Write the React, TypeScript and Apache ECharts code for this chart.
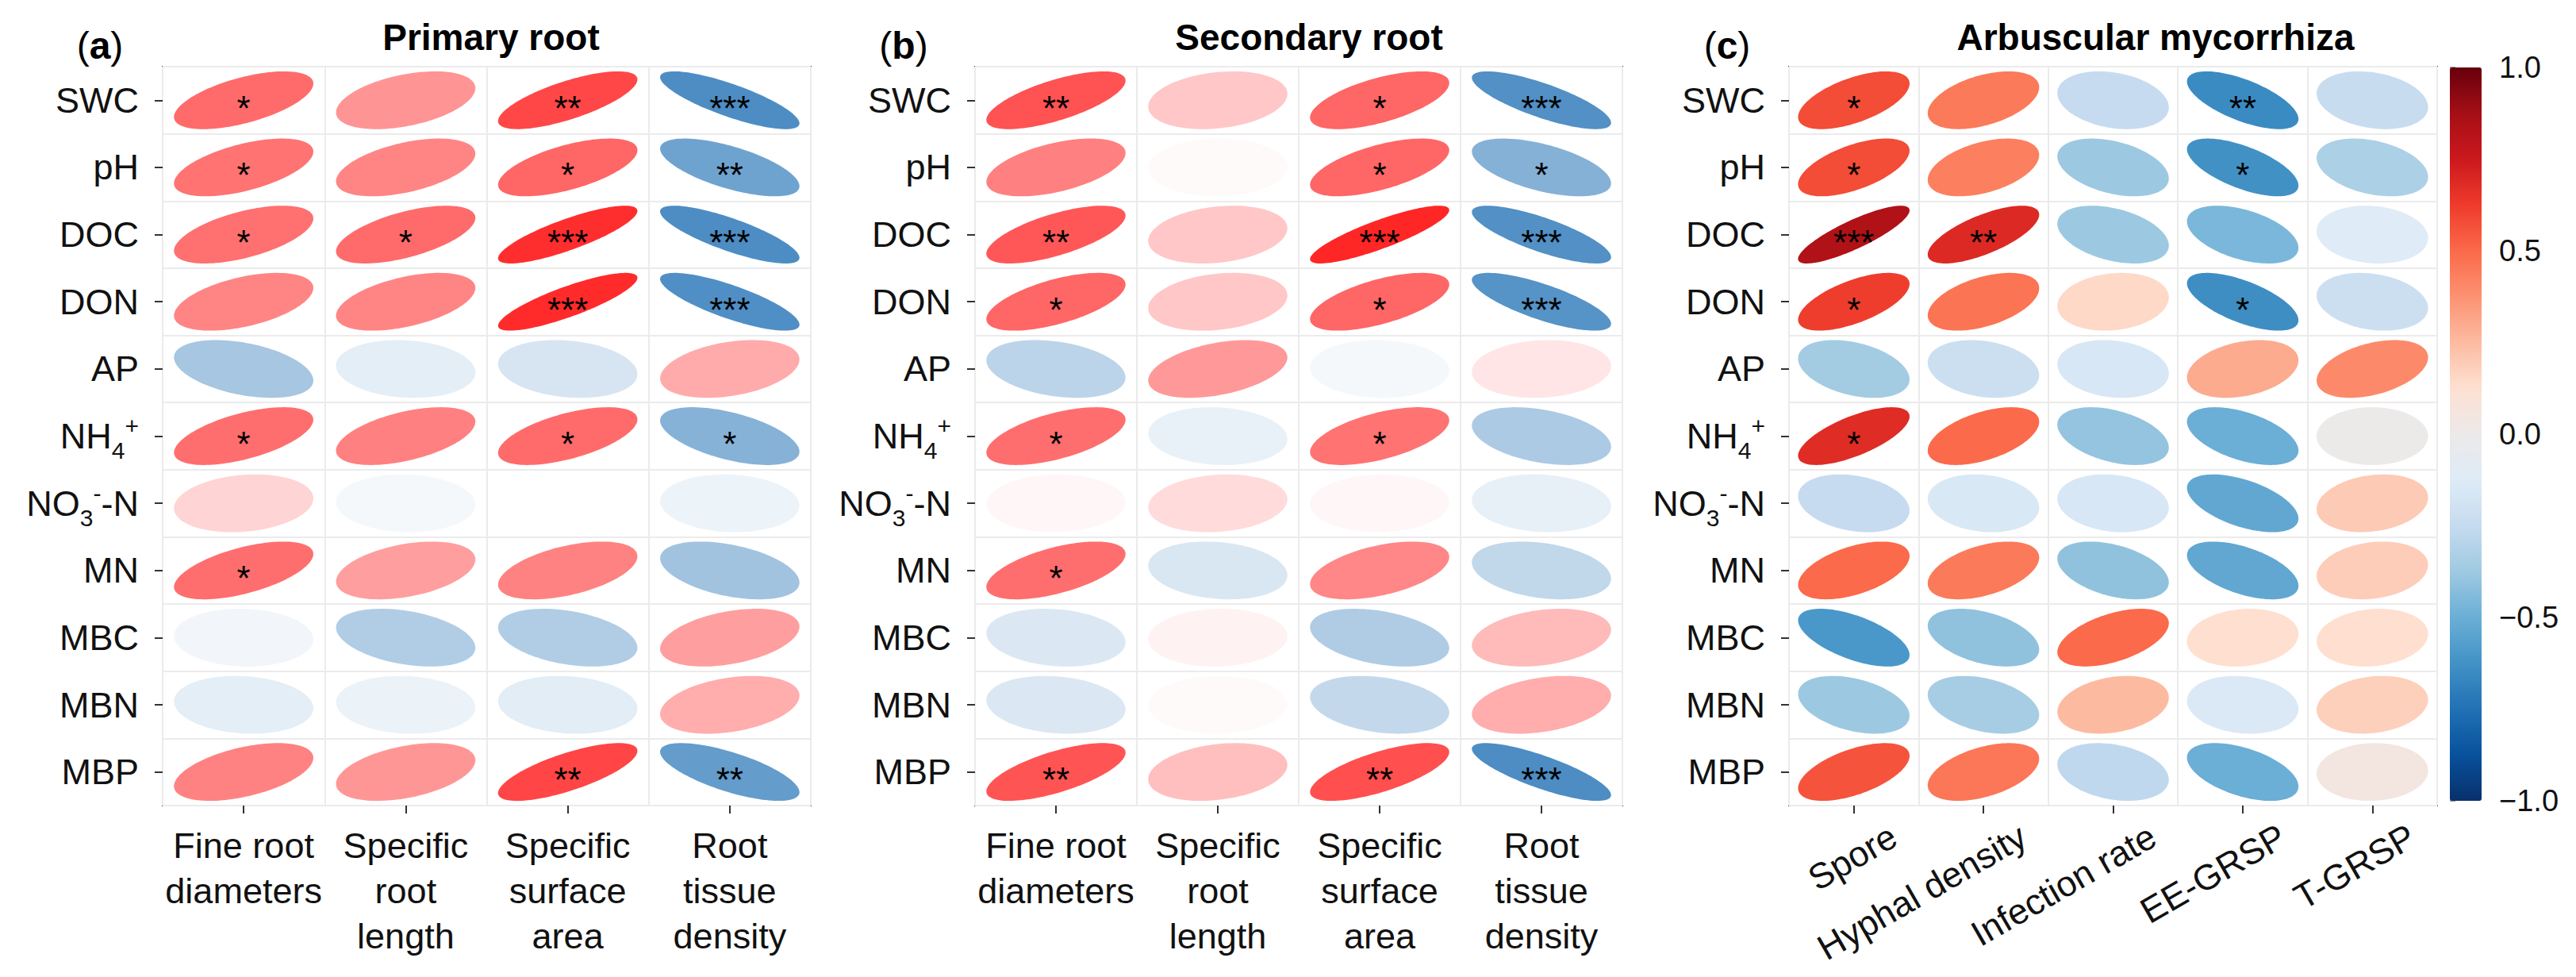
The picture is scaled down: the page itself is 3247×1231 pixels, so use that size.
import React, { useEffect, useRef } from 'react';
import * as echarts from 'echarts';

const FONT = '"Liberation Sans", Arial, Helvetica, sans-serif';

// ---------- categories ----------
const rowNames = ['SWC', 'pH', 'DOC', 'DON', 'AP', 'NH4+', 'NO3--N', 'MN', 'MBC', 'MBN', 'MBP'];
const rootTraits = ['Fine root\ndiameters', 'Specific\nroot\nlength', 'Specific\nsurface\narea', 'Root\ntissue\ndensity'];
const amfTraits = ['Spore', 'Hyphal density', 'Infection rate', 'EE-GRSP', 'T-GRSP'];

// ---------- correlation values (rows x columns) ----------
const primaryR = [
  [0.58, 0.42, 0.72, -0.80],
  [0.55, 0.48, 0.60, -0.65],
  [0.56, 0.58, 0.82, -0.80],
  [0.48, 0.48, 0.83, -0.79],
  [-0.40, -0.12, -0.18, 0.33],
  [0.57, 0.50, 0.58, -0.54],
  [0.17, -0.05, 0.00, -0.08],
  [0.57, 0.38, 0.49, -0.42],
  [-0.06, -0.35, -0.35, 0.38],
  [-0.12, -0.09, -0.13, 0.32],
  [0.49, 0.41, 0.73, -0.70],
];
const primarySig = [
  ['*', '', '**', '***'],
  ['*', '', '*', '**'],
  ['*', '*', '***', '***'],
  ['', '', '***', '***'],
  ['', '', '', ''],
  ['*', '', '*', '*'],
  ['', '', '', ''],
  ['*', '', '', ''],
  ['', '', '', ''],
  ['', '', '', ''],
  ['', '', '**', '**'],
];

const secondaryR = [
  [0.68, 0.22, 0.60, -0.78],
  [0.50, 0.02, 0.60, -0.55],
  [0.66, 0.22, 0.85, -0.78],
  [0.60, 0.22, 0.60, -0.76],
  [-0.30, 0.40, -0.05, 0.10],
  [0.57, -0.10, 0.55, -0.37],
  [0.03, 0.14, 0.03, -0.11],
  [0.57, -0.17, 0.47, -0.28],
  [-0.16, 0.05, -0.36, 0.27],
  [-0.16, 0.02, -0.27, 0.32],
  [0.67, 0.25, 0.69, -0.80],
];
const secondarySig = [
  ['**', '', '*', '***'],
  ['', '', '*', '*'],
  ['**', '', '***', '***'],
  ['*', '', '*', '***'],
  ['', '', '', ''],
  ['*', '', '*', ''],
  ['', '', '', ''],
  ['*', '', '', ''],
  ['', '', '', ''],
  ['', '', '', ''],
  ['**', '', '**', '***'],
];

const amfR = [
  [0.58, 0.45, -0.25, -0.65, -0.24],
  [0.58, 0.43, -0.38, -0.63, -0.33],
  [0.84, 0.69, -0.38, -0.46, -0.12],
  [0.62, 0.47, 0.15, -0.64, -0.22],
  [-0.36, -0.22, -0.16, 0.30, 0.40],
  [0.68, 0.50, -0.40, -0.50, 0.00],
  [-0.25, -0.15, -0.16, -0.53, 0.20],
  [0.50, 0.45, -0.41, -0.53, 0.19],
  [-0.60, -0.41, 0.50, 0.13, 0.13],
  [-0.38, -0.35, 0.25, -0.14, 0.18],
  [0.56, 0.46, -0.27, -0.50, 0.05],
];
const amfSig = [
  ['*', '', '', '**', ''],
  ['*', '', '', '*', ''],
  ['***', '**', '', '', ''],
  ['*', '', '', '*', ''],
  ['', '', '', '', ''],
  ['*', '', '', '', ''],
  ['', '', '', '', ''],
  ['', '', '', '', ''],
  ['', '', '', '', ''],
  ['', '', '', '', ''],
  ['', '', '', '', ''],
];

const panelTitles = ['Primary root', 'Secondary root', 'Arbuscular mycorrhiza'];
const panelLetters = ['a', 'b', 'c'];
const colorbarMin = -1;
const colorbarMax = 1;
const colorbarStep = 0.5;

// ---------- palettes ----------
const rootPalette = ['#2171B5', '#FFFFFF', '#FF0000'];
const amfPalette = [
  '#08306B', '#08519C', '#2171B5', '#4292C6', '#6BAED6', '#9ECAE1', '#C6DBEF', '#DEEBF7',
  '#ECE9E9',
  '#FEE0D2', '#FCBBA1', '#FC9272', '#FB6A4A', '#EF3B2C', '#CB181D', '#A50F15', '#67000D',
];

// ---------- layout ----------
const GRID_TOP = 84;
const GRID_H = 931;
const gridsLayout = [
  { left: 205, top: GRID_TOP, width: 817, height: GRID_H },
  { left: 1229, top: GRID_TOP, width: 816, height: GRID_H },
  { left: 2255, top: GRID_TOP, width: 817, height: GRID_H },
];
const titlePos = [
  { x: 619, y: 47 },
  { x: 1650, y: 47 },
  { x: 2717, y: 47 },
];
const letterPos = [
  { x: 126, y: 57 },
  { x: 1139, y: 57 },
  { x: 2177, y: 57 },
];

const K = 0.43;

function makeRender(sig: string[]) {
  return (params: any, api: any) => {
    const c = api.coord([api.value(0), api.value(1)]);
    const sz = api.size([1, 1]);
    const w = Math.abs(sz[0]);
    const h = Math.abs(sz[1]);
    const r = api.value(2);
    const A = Math.sqrt(Math.max(0, 1 + r));
    const B = Math.sqrt(Math.max(0, 1 - r));
    const pts: number[][] = [];
    const N = 120;
    for (let i = 0; i < N; i++) {
      const t = (i / N) * Math.PI * 2;
      const u = (A * Math.cos(t) - B * Math.sin(t)) / Math.SQRT2;
      const v = (A * Math.cos(t) + B * Math.sin(t)) / Math.SQRT2;
      pts.push([c[0] + u * K * w, c[1] - v * K * h]);
    }
    const children: any[] = [
      { type: 'polygon', shape: { points: pts }, style: { fill: api.visual('color'), stroke: null } },
    ];
    const s = sig[params.dataIndex];
    if (s) {
      children.push({
        type: 'text',
        x: c[0],
        y: c[1] + 10,
        style: {
          text: s,
          fill: '#000',
          fontSize: 44,
          fontFamily: FONT,
          align: 'center',
          verticalAlign: 'middle',
        },
      });
    }
    return { type: 'group', children };
  };
}

function buildSeries(idx: number, R: number[][], S: string[][]) {
  const data: number[][] = [];
  const sig: string[] = [];
  R.forEach((row, yi) =>
    row.forEach((v, xi) => {
      data.push([xi, yi, v]);
      sig.push(S[yi][xi]);
    })
  );
  return {
    type: 'custom',
    xAxisIndex: idx,
    yAxisIndex: idx,
    data,
    encode: { x: 0, y: 1 },
    renderItem: makeRender(sig),
    silent: true,
    clip: false,
  };
}

const rowLabel = (v: string) => {
  if (v === 'NH4+') return 'NH{sub|4}{sup|+}';
  if (v === 'NO3--N') return 'NO{sub|3}{sup|-}-N';
  return v;
};

function yAxisFor(idx: number) {
  return {
    gridIndex: idx,
    type: 'category',
    data: rowNames,
    inverse: true,
    boundaryGap: true,
    axisLine: { show: false },
    axisTick: { show: true, alignWithLabel: true, interval: 0, length: 10, lineStyle: { color: '#333', width: 2 } },
    splitLine: { show: true, interval: 0, lineStyle: { color: '#EBEBEB', width: 2 } },
    axisLabel: {
      interval: 0,
      margin: 30,
      fontSize: 45,
      color: '#111',
      fontFamily: FONT,
      formatter: rowLabel,
      rich: {
        sub: { fontSize: 30, fontFamily: FONT, color: '#111', padding: [36, 0, 0, 0] },
        sup: { fontSize: 30, fontFamily: FONT, color: '#111', padding: [0, 0, 26, 0] },
      },
    },
  };
}

function xAxisFor(idx: number, data: string[], rotated: boolean) {
  return {
    gridIndex: idx,
    type: 'category',
    data,
    boundaryGap: true,
    axisLine: { show: false },
    axisTick: { show: true, alignWithLabel: true, interval: 0, length: 10, lineStyle: { color: '#333', width: 2 } },
    splitLine: { show: true, interval: 0, lineStyle: { color: '#EBEBEB', width: 2 } },
    axisLabel: rotated
      ? {
          interval: 0,
          rotate: 30,
          margin: 64,
          padding: [0, -58, 0, 0],
          fontSize: 45,
          color: '#111',
          fontFamily: FONT,
        }
      : {
          interval: 0,
          margin: 22,
          fontSize: 45,
          lineHeight: 57,
          color: '#111',
          fontFamily: FONT,
        },
  };
}

export default function App() {
  const ref = useRef<HTMLDivElement>(null);
  useEffect(() => {
    if (!ref.current) return;
    const chart = echarts.init(ref.current, null, { renderer: 'svg', width: 3247, height: 1231 });
    const grids: any[] = gridsLayout.map((g) => ({
      ...g,
      show: true,
      borderColor: '#333',
      borderWidth: 2,
      backgroundColor: '#fff',
      containLabel: false,
    }));
    grids.push({ left: 3088, top: 85, width: 40, height: 924, show: false });

    const graphic: any[] = [];
    panelTitles.forEach((t, i) => {
      graphic.push({
        type: 'text',
        x: titlePos[i].x,
        y: titlePos[i].y,
        style: {
          text: t,
          fill: '#000',
          fontSize: 46,
          fontWeight: 'bold',
          fontFamily: FONT,
          align: 'center',
          verticalAlign: 'middle',
        },
      });
      graphic.push({
        type: 'text',
        x: letterPos[i].x,
        y: letterPos[i].y,
        style: {
          text: '{p|(}{b|' + panelLetters[i] + '}{p|)}',
          align: 'center',
          verticalAlign: 'middle',
          rich: {
            p: { fontSize: 48, fontFamily: FONT, fill: '#000' },
            b: { fontSize: 48, fontFamily: FONT, fontWeight: 'bold', fill: '#000' },
          },
        },
      });
    });

    const option: any = {
      animation: false,
      backgroundColor: '#fff',
      grid: grids,
      xAxis: [
        xAxisFor(0, rootTraits, false),
        xAxisFor(1, rootTraits, false),
        xAxisFor(2, amfTraits, true),
        { gridIndex: 3, type: 'value', show: false, min: 0, max: 1 },
      ],
      yAxis: [
        yAxisFor(0),
        yAxisFor(1),
        yAxisFor(2),
        {
          gridIndex: 3,
          type: 'value',
          position: 'right',
          min: colorbarMin,
          max: colorbarMax,
          interval: colorbarStep,
          axisLine: { show: false },
          axisTick: { show: true, length: 7, lineStyle: { color: '#999', width: 2 } },
          splitLine: { show: false },
          axisLabel: {
            margin: 22,
            fontSize: 38,
            color: '#111',
            fontFamily: FONT,
            formatter: (v: number) => (v < 0 ? '\u2212' : '') + Math.abs(v).toFixed(1),
          },
        },
      ],
      visualMap: [
        {
          type: 'continuous',
          show: false,
          seriesIndex: [0, 1],
          dimension: 2,
          min: -1,
          max: 1,
          inRange: { color: rootPalette },
        },
        {
          type: 'continuous',
          show: true,
          seriesIndex: 2,
          dimension: 2,
          min: colorbarMin,
          max: colorbarMax,
          calculable: false,
          hoverLink: false,
          left: 3088,
          top: 85,
          padding: 0,
          itemWidth: 40,
          itemHeight: 924,
          text: null,
          inRange: { color: amfPalette },
        },
      ],
      graphic,
      series: [
        buildSeries(0, primaryR, primarySig),
        buildSeries(1, secondaryR, secondarySig),
        buildSeries(2, amfR, amfSig),
      ],
    };
    chart.setOption(option);
    return () => chart.dispose();
  }, []);
  return (
    <div
      ref={ref}
      style={{ position: 'fixed', left: 0, top: 0, width: 3247, height: 1231, background: '#fff' }}
    />
  );
}
